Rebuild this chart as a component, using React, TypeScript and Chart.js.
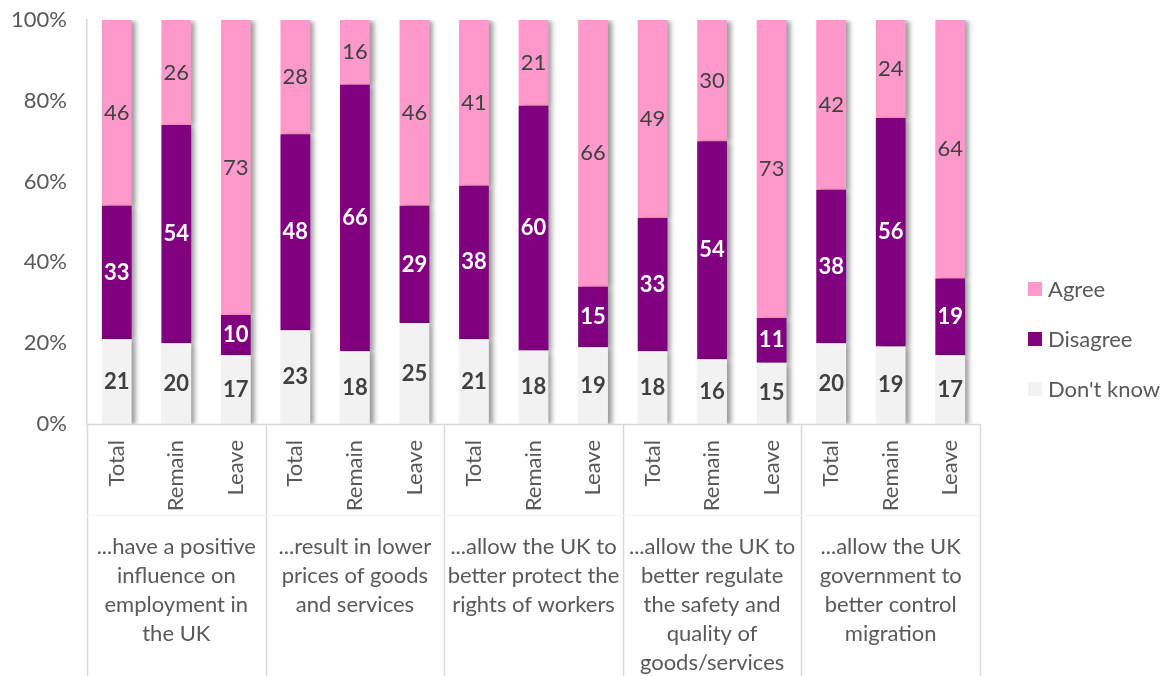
import { useEffect, useRef } from 'react';
import { Chart, registerables } from 'chart.js';

Chart.register(...registerables);

const FONT = 'Lato, "Open Sans", sans-serif';
const FS = 22;

const subLabels = ['Total', 'Remain', 'Leave'];
const groupLabels: string[][] = [
  ['...have a positive', 'influence on', 'employment in', 'the UK'],
  ['...result in lower', 'prices of goods', 'and services'],
  ['...allow the UK to', 'better protect the', 'rights of workers'],
  ['...allow the UK to', 'better regulate', 'the safety and', 'quality of', 'goods/services'],
  ['...allow the UK', 'government to', 'better control', 'migration'],
];

const agree = [46, 26, 73, 28, 16, 46, 41, 21, 66, 49, 30, 73, 42, 24, 64];
const disagree = [33, 54, 10, 48, 66, 29, 38, 60, 15, 33, 54, 11, 38, 56, 19];
const dontKnow = [21, 20, 17, 23, 18, 25, 21, 18, 19, 18, 16, 15, 20, 19, 17];

const legendItems = [
  { label: 'Agree', color: '#FF99CC' },
  { label: 'Disagree', color: '#800080' },
  { label: "Don't know", color: '#F2F2F2' },
];

export default function App() {
  const ref = useRef<HTMLCanvasElement>(null);

  useEffect(() => {
    if (!ref.current) return;
    const labels = groupLabels.flatMap((_, g) => subLabels.map((s) => `${g}-${s}`));
    const totals = agree.map((a, i) => a + disagree[i] + dontKnow[i]);
    const pct = (arr: number[]) => arr.map((v, i) => (v / totals[i]) * 100);

    const rawValues = [dontKnow, disagree, agree];
    const labelStyles = [
      { color: '#404040', weight: 'bold' },
      { color: '#FFFFFF', weight: 'bold' },
      { color: '#404040', weight: 'normal' },
    ];

    const decorPlugin = {
      id: 'decor',
      beforeDatasetsDraw(chart: any) {
        const ctx = chart.ctx;
        ctx.save();
        ctx.shadowColor = 'rgba(0,0,0,0.4)';
        ctx.shadowBlur = 5;
        ctx.shadowOffsetX = 4;
        ctx.shadowOffsetY = 1;
      },
      afterDatasetsDraw(chart: any) {
        const ctx = chart.ctx;
        ctx.restore();
        ctx.save();
        chart.data.datasets.forEach((ds: any, di: number) => {
          const meta = chart.getDatasetMeta(di);
          const st = labelStyles[di];
          ctx.font = `${st.weight} ${FS}px ${FONT}`;
          ctx.fillStyle = st.color;
          ctx.textAlign = 'center';
          ctx.textBaseline = 'middle';
          meta.data.forEach((el: any, i: number) => {
            const yc = (el.y + el.base) / 2;
            ctx.fillText(String(rawValues[di][i]), el.x, yc);
          });
        });
        ctx.restore();
      },
      afterDraw(chart: any) {
        const ctx = chart.ctx;
        const area = chart.chartArea;
        const xs = chart.scales.x;
        const step = (area.right - area.left) / labels.length;
        ctx.save();
        ctx.strokeStyle = '#D9D9D9';
        ctx.lineWidth = 1.5;
        ctx.beginPath();
        ctx.moveTo(area.left, area.bottom + 0.5);
        ctx.lineTo(area.right, area.bottom + 0.5);
        ctx.stroke();
        for (let g = 0; g <= groupLabels.length; g++) {
          const x = Math.round(area.left + g * 3 * step) + 0.5;
          ctx.beginPath();
          ctx.moveTo(x, area.bottom);
          ctx.lineTo(x, chart.height);
          ctx.stroke();
        }
        ctx.strokeStyle = '#F4F4F4';
        ctx.lineWidth = 1;
        ctx.beginPath();
        ctx.moveTo(area.left, 515.5);
        ctx.lineTo(area.right, 515.5);
        ctx.stroke();

        ctx.fillStyle = '#595959';
        ctx.font = `${FS}px ${FONT}`;
        labels.forEach((_, i) => {
          const x = xs.getPixelForValue(i);
          ctx.save();
          ctx.translate(x, area.bottom + 16);
          ctx.rotate(-Math.PI / 2);
          ctx.textAlign = 'right';
          ctx.textBaseline = 'middle';
          ctx.fillText(subLabels[i % 3], 0, 0);
          ctx.restore();
        });

        ctx.textAlign = 'center';
        ctx.textBaseline = 'middle';
        groupLabels.forEach((lines, g) => {
          const cx = area.left + (g * 3 + 1.5) * step;
          lines.forEach((line, li) => {
            ctx.fillText(line, cx, 547 + li * 29);
          });
        });

        legendItems.forEach((item, k) => {
          const cy = 289 + k * 50;
          ctx.fillStyle = item.color;
          ctx.fillRect(1028, cy - 7, 14, 14);
          ctx.fillStyle = '#595959';
          ctx.textAlign = 'left';
          ctx.textBaseline = 'middle';
          ctx.fillText(item.label, 1048, cy + 1);
        });
        ctx.restore();
      },
    };

    const chart = new Chart(ref.current, {
      type: 'bar',
      data: {
        labels,
        datasets: [
          { label: "Don't know", data: pct(dontKnow), backgroundColor: '#F2F2F2', barPercentage: 0.5, categoryPercentage: 1 },
          { label: 'Disagree', data: pct(disagree), backgroundColor: '#800080', barPercentage: 0.5, categoryPercentage: 1 },
          { label: 'Agree', data: pct(agree), backgroundColor: '#FF99CC', barPercentage: 0.5, categoryPercentage: 1 },
        ],
      },
      options: {
        animation: false,
        responsive: false,
        maintainAspectRatio: false,
        layout: { padding: { top: 20, right: 192, left: 0, bottom: 0 } },
        plugins: { legend: { display: false }, tooltip: { enabled: false } },
        scales: {
          x: {
            stacked: true,
            grid: { display: false, drawTicks: false },
            border: { display: false },
            ticks: { display: false },
            afterFit: (s: any) => {
              s.height = 252;
              s.paddingLeft = 0;
              s.paddingRight = 0;
            },
          },
          y: {
            stacked: true,
            min: 0,
            max: 100,
            ticks: {
              stepSize: 20,
              callback: (v: any) => `${v}%`,
              font: { family: FONT, size: FS },
              color: '#595959',
              padding: 20,
            },
            grid: { display: false, drawTicks: false },
            border: { display: true, color: '#D9D9D9', width: 1.5 },
            afterFit: (s: any) => {
              s.width = 87;
              s.paddingTop = 0;
              s.paddingBottom = 0;
            },
          },
        },
      } as any,
      plugins: [decorPlugin],
    });
    return () => chart.destroy();
  }, []);

  return (
    <div style={{ position: 'fixed', left: 0, top: 0, width: 1172, height: 676, background: '#fff' }}>
      <canvas ref={ref} width={1172} height={676} style={{ width: 1172, height: 676 }} />
    </div>
  );
}
